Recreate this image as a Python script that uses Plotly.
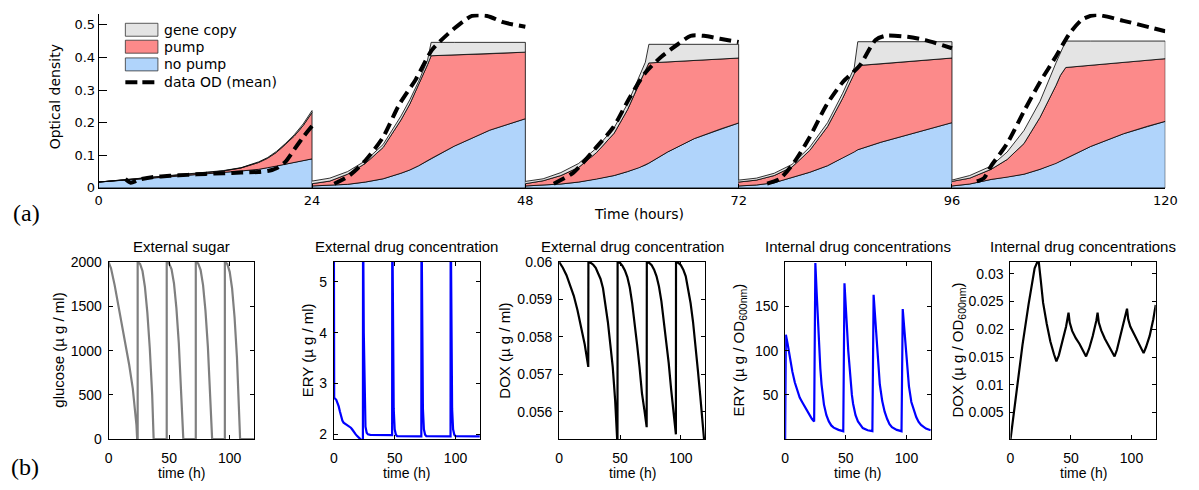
import plotly.graph_objects as go

W, H = 1199, 490
def px(x): return x / W
def py(y): return 1 - y / H

# ---------------- (a) top panel data: stacked optical density (cumulative tops) ----------------
seg_t = [
    [0, 2, 4, 6, 8, 10, 12, 14, 16, 18, 19, 20, 21, 22, 23, 24],
    [24, 26, 28, 30, 32, 34, 35, 36, 37, 37.4, 40, 44, 48],
    [48, 50, 52, 54, 56, 58, 59.5, 60.8, 61.5, 61.9, 64, 67, 70, 72],
    [72, 74, 76, 78, 80, 82, 83.7, 85, 85.4, 88, 90, 93, 96],
    [96, 98, 100.4, 102.2, 104.1, 105.9, 107.7, 108.2, 108.8, 111.6, 115.3, 118, 120],
]
no_pump_top = [
    [0.018, 0.022, 0.026, 0.030, 0.034, 0.038, 0.042, 0.047, 0.052, 0.057, 0.062, 0.067, 0.072, 0.078, 0.083, 0.089],
    [0.006, 0.008, 0.011, 0.018, 0.028, 0.045, 0.055, 0.068, 0.083, 0.090, 0.128, 0.177, 0.212],
    [0.006, 0.008, 0.012, 0.018, 0.027, 0.038, 0.050, 0.062, 0.070, 0.076, 0.110, 0.151, 0.181, 0.199],
    [0.006, 0.009, 0.016, 0.031, 0.048, 0.068, 0.092, 0.110, 0.117, 0.140, 0.155, 0.178, 0.200],
    [0.006, 0.012, 0.026, 0.033, 0.042, 0.057, 0.075, 0.082, 0.090, 0.127, 0.166, 0.189, 0.204],
]
pump_top = [
    [0.018, 0.023, 0.027, 0.032, 0.037, 0.042, 0.046, 0.052, 0.061, 0.078, 0.091, 0.109, 0.133, 0.159, 0.191, 0.231],
    [0.013, 0.021, 0.042, 0.075, 0.124, 0.208, 0.257, 0.315, 0.378, 0.405, 0.407, 0.411, 0.416],
    [0.013, 0.022, 0.038, 0.063, 0.108, 0.168, 0.240, 0.320, 0.360, 0.383, 0.386, 0.390, 0.395, 0.398],
    [0.018, 0.024, 0.038, 0.064, 0.115, 0.188, 0.275, 0.350, 0.375, 0.380, 0.385, 0.391, 0.398],
    [0.020, 0.030, 0.057, 0.087, 0.136, 0.216, 0.314, 0.345, 0.369, 0.376, 0.385, 0.391, 0.396],
]
gene_copy_top = [
    [0.018, 0.023, 0.027, 0.032, 0.037, 0.042, 0.047, 0.053, 0.062, 0.080, 0.093, 0.112, 0.136, 0.163, 0.196, 0.237],
    [0.021, 0.030, 0.050, 0.083, 0.133, 0.220, 0.270, 0.327, 0.392, 0.446, 0.446, 0.446, 0.446],
    [0.020, 0.028, 0.047, 0.075, 0.122, 0.185, 0.258, 0.340, 0.385, 0.440, 0.440, 0.440, 0.440, 0.440],
    [0.024, 0.030, 0.045, 0.072, 0.125, 0.200, 0.290, 0.368, 0.448, 0.448, 0.448, 0.448, 0.448],
    [0.024, 0.038, 0.067, 0.110, 0.176, 0.265, 0.383, 0.413, 0.450, 0.450, 0.450, 0.450, 0.450],
]
od_t = [
    [3, 3.6, 4.5, 6, 8, 10, 12, 14, 16, 18, 19, 19.5, 20, 21, 22, 23, 24],
    [26.5, 28.2, 30.1, 32, 33.8, 35.7, 37.5, 39.3, 41, 42, 43.7, 45.6, 48],
    [51.2, 53.4, 56, 57.9, 59.7, 61.5, 63.3, 65.2, 66.6, 68.1, 69.9, 72],
    [75.2, 76.6, 78.2, 80, 81.9, 83.7, 85.6, 87.4, 88.5, 91, 93, 96],
    [98.8, 99.6, 100.4, 102.2, 104.1, 105.9, 107.7, 109.2, 110.7, 112.2, 115.3, 120],
]
od_mean = [
    [0.027, 0.016, 0.025, 0.033, 0.037, 0.040, 0.043, 0.045, 0.047, 0.049, 0.052, 0.055, 0.060, 0.080, 0.118, 0.156, 0.190],
    [0.013, 0.038, 0.087, 0.156, 0.255, 0.334, 0.423, 0.472, 0.510, 0.527, 0.527, 0.507, 0.494],
    [0.013, 0.047, 0.125, 0.186, 0.275, 0.353, 0.402, 0.441, 0.466, 0.466, 0.457, 0.447],
    [0.013, 0.027, 0.077, 0.156, 0.255, 0.324, 0.374, 0.453, 0.466, 0.463, 0.453, 0.428],
    [0.020, 0.030, 0.067, 0.136, 0.235, 0.324, 0.403, 0.472, 0.517, 0.530, 0.512, 0.480],
]
top_xticks = [0, 24, 48, 72, 96, 120]
top_yticks = [0, 0.1, 0.2, 0.3, 0.4, 0.5]

# ---------------- (b) bottom panels data ----------------
sugar_t = [0, 2, 5, 8, 11, 14, 17, 20, 22, 23, 23.6, 24,
           24, 26, 28, 30, 32, 34, 36, 37.2, 48,
           48, 50, 52, 54, 56, 58, 60, 61.7, 72,
           72, 74, 76, 78, 80, 82, 84, 85.5, 96,
           96, 98, 100, 102, 104, 106, 108, 108.6, 120]
sugar = [2000, 1930, 1740, 1520, 1300, 1070, 840, 570, 330, 160, 0, 0,
         2000, 1980, 1900, 1720, 1430, 1030, 500, 0, 0,
         2000, 1985, 1920, 1760, 1480, 1080, 560, 0, 0,
         2000, 1985, 1910, 1740, 1450, 1040, 480, 0, 0,
         2000, 1980, 1890, 1700, 1380, 920, 240, 0, 0]

ery_ext_t = [0, 0.3, 2, 3, 4, 5, 6, 7, 8, 10, 12, 14, 15, 16, 18, 19, 20, 21, 22, 23.9,
             24, 24.6, 25.2, 26, 27, 28, 30, 47.9,
             48, 48.6, 49.2, 50, 51, 52, 71.9,
             72, 72.6, 73.2, 74, 75, 76, 95.9,
             96, 96.6, 97.2, 98, 99, 100, 120]
ery_ext = [6.5, 2.72, 2.68, 2.62, 2.55, 2.45, 2.35, 2.27, 2.23, 2.20, 2.17, 2.13, 2.10, 2.06, 2.00, 1.97, 1.94, 1.92, 1.90, 1.88,
           6.5, 4.0, 2.6, 2.15, 2.03, 2.0, 1.99, 1.985,
           6.5, 3.8, 2.5, 2.1, 1.99, 1.965, 1.96,
           6.5, 3.8, 2.5, 2.1, 1.99, 1.965, 1.96,
           6.5, 3.8, 2.5, 2.1, 1.99, 1.965, 1.96]

dox_ext_t = [0, 3, 6, 9, 12, 15, 18, 21, 23.9,
             24, 26, 28, 30, 32, 34, 36, 38, 40, 42, 44, 46, 47.9,
             48, 50, 52, 54, 56, 58, 60, 62, 64, 66, 68, 70, 71.9,
             72, 74, 76, 78, 80, 82, 84, 86, 88, 90, 92, 94, 95.9,
             96, 98, 100, 102, 104, 106, 108, 110, 112, 114, 116, 118, 120]
dox_ext = [0.06, 0.05985, 0.05965, 0.0594, 0.0591, 0.05872, 0.0583, 0.0578, 0.0572,
           0.06, 0.05998, 0.05993, 0.05985, 0.05972, 0.05955, 0.0593, 0.0589, 0.0584, 0.0578, 0.0572, 0.0563, 0.0551,
           0.06, 0.05998, 0.0599, 0.05978, 0.0596, 0.05932, 0.0589, 0.0584, 0.0578, 0.0572, 0.0565, 0.05605, 0.05559,
           0.06, 0.05998, 0.05992, 0.0598, 0.05962, 0.05935, 0.05895, 0.05845, 0.0579, 0.0573, 0.0566, 0.0560, 0.0554,
           0.06, 0.05998, 0.05992, 0.0598, 0.05962, 0.0593, 0.0589, 0.0584, 0.0578, 0.0571, 0.0564, 0.0557, 0.0549]

ery_int_t = [0, 0.6, 2, 4, 6, 8, 10, 12, 14, 16, 18, 20, 22, 23.9,
             24.9, 26, 27, 28, 29, 30, 31, 32, 34, 36, 38, 40, 44, 47.9,
             48.9, 50, 51, 52, 53, 54, 55, 56, 58, 60, 62, 64, 68, 71.9,
             72.9, 74, 75, 76, 77, 78, 80, 82, 84, 86, 88, 92, 95.9,
             96.9, 98, 99, 100, 101, 102, 104, 106, 108, 110, 112, 116, 120]
ery_int = [0, 118, 108, 90, 76, 64, 55, 47, 42, 37, 32, 27, 23, 20,
           199, 165, 130, 103, 80, 62, 48, 39, 27, 20, 15.5, 13, 10.5, 9,
           176, 155, 125, 100, 80, 64, 50, 40, 27, 20, 15.5, 12.5, 10, 9,
           163, 140, 115, 93, 76, 62, 43, 31, 23, 17, 13.5, 10.5, 9,
           147, 128, 108, 90, 73, 60, 42, 32, 25, 19.5, 16, 12, 10]

dox_int_t = [0, 5, 10, 15, 20, 22, 23.5, 25, 27, 30, 33, 36, 38, 40, 43, 46, 48,
             49, 51, 54, 57, 60, 62.5, 65, 68, 71, 72,
             73, 75, 78, 81, 84, 86, 88, 91, 94, 96.3,
             97.3, 99, 102, 105, 108, 110, 112, 115, 118, 120]
dox_int = [0, 0.0085, 0.0172, 0.0245, 0.031, 0.032, 0.032, 0.029, 0.0248, 0.0210, 0.0178, 0.0155, 0.0142, 0.0153, 0.0177, 0.0205, 0.0230,
           0.0212, 0.0197, 0.0184, 0.0174, 0.0162, 0.0151, 0.0165, 0.0188, 0.0216, 0.0230,
           0.0212, 0.0198, 0.0183, 0.0172, 0.0160, 0.0151, 0.0163, 0.0190, 0.0218, 0.0237,
           0.0218, 0.0205, 0.0192, 0.0179, 0.0166, 0.0157, 0.0168, 0.0188, 0.0218, 0.0244]

# ---------------- styling ----------------
BLUE = "#b0d4fb"
RED = "#fc8a8a"
GRAY = "#e4e4e4"
TOPFONT = "DejaVu Sans"
BOTFONT = "Liberation Sans"

fig = go.Figure()

# stacked areas, segment by segment (closed polygons so the vertical edges are outlined)
for t, b, r, g in zip(seg_t, no_pump_top, pump_top, gene_copy_top):
    xs = t + t[::-1]
    for top, bot, col in ((b, [0] * len(t), BLUE), (r, b[::-1], RED), (g, r[::-1], GRAY)):
        fig.add_trace(go.Scatter(
            x=xs, y=top + bot, mode="lines", fill="toself",
            fillcolor=col, line=dict(color="black", width=0.8),
            showlegend=False, hoverinfo="skip", xaxis="x", yaxis="y"))

# dashed data OD
dx, dy = [], []
for t, v in zip(od_t, od_mean):
    dx += t + [None]
    dy += v + [None]
fig.add_trace(go.Scatter(x=dx, y=dy, mode="lines", connectgaps=False,
                         line=dict(color="black", width=4, dash="12px,6px", shape="spline", smoothing=0.7),
                         showlegend=False, hoverinfo="skip", xaxis="x", yaxis="y"))

# bottom panels
fig.add_trace(go.Scatter(x=sugar_t, y=sugar, mode="lines", line=dict(color="#7f7f7f", width=2.2),
                         showlegend=False, xaxis="x2", yaxis="y2"))
fig.add_trace(go.Scatter(x=ery_ext_t, y=ery_ext, mode="lines", line=dict(color="#0000ff", width=2.2),
                         showlegend=False, xaxis="x3", yaxis="y3"))
fig.add_trace(go.Scatter(x=dox_ext_t, y=dox_ext, mode="lines", line=dict(color="black", width=2.2),
                         showlegend=False, xaxis="x4", yaxis="y4"))
fig.add_trace(go.Scatter(x=ery_int_t, y=ery_int, mode="lines", line=dict(color="#0000ff", width=2.2),
                         showlegend=False, xaxis="x5", yaxis="y5"))
fig.add_trace(go.Scatter(x=dox_int_t, y=dox_int, mode="lines", line=dict(color="black", width=2.2),
                         showlegend=False, xaxis="x6", yaxis="y6"))

layout = dict(
    width=W, height=H, margin=dict(l=0, r=0, t=0, b=0),
    paper_bgcolor="white", plot_bgcolor="white", showlegend=False,
)

# top axes
layout["xaxis"] = dict(domain=[px(96), px(1177)], range=[0, 120], tickvals=top_xticks,
                       showline=True, linecolor="black", linewidth=1, ticks="inside", ticklen=4,
                       tickcolor="black", showgrid=False, zeroline=False, anchor="y",
                       tickfont=dict(family=TOPFONT, size=13, color="black"))
layout["yaxis"] = dict(domain=[py(186), py(6)], range=[0, 0.5335], tickvals=top_yticks,
                       ticktext=["0", "0.1", "0.2", "0.3", "0.4", "0.5"],
                       showline=True, linecolor="black", linewidth=1, ticks="inside", ticklen=8,
                       tickcolor="black", showgrid=False, zeroline=False, anchor="x",
                       tickfont=dict(family=TOPFONT, size=13, color="black"))

panels = [
    (106, 253.3, [0, 2000], [0, 500, 1000, 1500, 2000], ["0", "500", "1000", "1500", "2000"]),
    (334.3, 482.3, [1.905, 5.39], [2, 3, 4, 5], ["2", "3", "4", "5"]),
    (562.7, 710.7, [0.05527, 0.06], [0.056, 0.057, 0.058, 0.059, 0.06], ["0.056", "0.057", "0.058", "0.059", "0.06"]),
    (791.7, 939.3, [0, 200], [50, 100, 150], ["50", "100", "150"]),
    (1020, 1167.3, [0.0002, 0.0321], [0.005, 0.01, 0.015, 0.02, 0.025, 0.03],
     ["0.005", "0.01", "0.015", "0.02", "0.025", "0.03"]),
]
titles = ["External sugar", "External drug concentration", "External drug concentration",
          "Internal drug concentrations", "Internal drug concentrations"]
ylabels = ["glucose (µ g / ml)", "ERY (µ g / ml)", "DOX (µ g / ml)",
           "ERY (µ g / OD<sub>600nm</sub>)", "DOX (µ g / OD<sub>600nm</sub>)"]
ylabel_x = [55, 308, 507, 745, 967]

annotations = []
for i, (x0, x1, yr, tv, tt) in enumerate(panels):
    n = i + 2
    layout[f"xaxis{n}"] = dict(domain=[px(x0), px(x1)], range=[0, 120], tickvals=[0, 50, 100],
                               showline=True, mirror="allticks", linecolor="black", linewidth=1,
                               ticks="inside", ticklen=4, tickcolor="black", showgrid=False,
                               zeroline=False, anchor=f"y{n}", ticklabelstandoff=6,
                               tickfont=dict(family=BOTFONT, size=14, color="black"))
    layout[f"yaxis{n}"] = dict(domain=[py(445.7), py(262.7)], range=yr, tickvals=tv, ticktext=tt,
                               showline=True, mirror="allticks", linecolor="black", linewidth=1,
                               ticks="inside", ticklen=4, tickcolor="black", showgrid=False,
                               zeroline=False, anchor=f"x{n}", ticklabelstandoff=3,
                               tickfont=dict(family=BOTFONT, size=14, color="black"))
    xc = (x0 + x1) / 2
    annotations.append(dict(x=px(xc), y=py(246.7), xref="paper", yref="paper", text=titles[i],
                            showarrow=False, font=dict(family=BOTFONT, size=15, color="black"),
                            xanchor="center", yanchor="middle"))
    annotations.append(dict(x=px(xc), y=py(481), xref="paper", yref="paper", text="time (h)",
                            showarrow=False, font=dict(family=BOTFONT, size=14, color="black"),
                            xanchor="center", yanchor="middle"))
    annotations.append(dict(x=px(ylabel_x[i]), y=py(354), xref="paper", yref="paper", text=ylabels[i],
                            showarrow=False, textangle=-90, font=dict(family=BOTFONT, size=15, color="black"),
                            xanchor="center", yanchor="middle"))

# top titles and panel letters
annotations.append(dict(x=px(644), y=py(213), xref="paper", yref="paper", text="Time (hours)",
                        showarrow=False, xanchor="center", yanchor="middle",
                        font=dict(family=TOPFONT, size=14, color="black")))
annotations.append(dict(x=px(52), y=py(92), xref="paper", yref="paper", text="Optical density",
                        showarrow=False, textangle=-90, xanchor="center", yanchor="middle",
                        font=dict(family=TOPFONT, size=14, color="black")))
annotations.append(dict(x=px(23), y=py(212), xref="paper", yref="paper", text="(a)",
                        showarrow=False, xanchor="center", yanchor="middle",
                        font=dict(family="Liberation Serif", size=24, color="black")))
annotations.append(dict(x=px(21), y=py(475), xref="paper", yref="paper", text="(b)",
                        showarrow=False, xanchor="center", yanchor="middle",
                        font=dict(family="Liberation Serif", size=24, color="black")))

# manual legend
legend_items = [("gene copy", GRAY, 22.5), ("pump", RED, 40), ("no pump", BLUE, 58.3)]
shapes = []
for name, col, yc in legend_items:
    shapes.append(dict(type="rect", xref="paper", yref="paper", x0=px(123), x1=px(156),
                       y0=py(yc + 6.7), y1=py(yc - 6.7), fillcolor=col, line=dict(color="#333333", width=0.8)))
    annotations.append(dict(x=px(160), y=py(yc), xref="paper", yref="paper", text=name, showarrow=False,
                            xanchor="left", yanchor="middle", font=dict(family=TOPFONT, size=14, color="black")))
shapes.append(dict(type="line", xref="paper", yref="paper", x0=px(123), x1=px(156), y0=py(76.7), y1=py(76.7),
                   line=dict(color="black", width=4, dash="12px,5px")))
annotations.append(dict(x=px(160), y=py(76.7), xref="paper", yref="paper", text="data OD (mean)", showarrow=False,
                        xanchor="left", yanchor="middle", font=dict(family=TOPFONT, size=14, color="black")))

layout["annotations"] = annotations
layout["shapes"] = shapes
fig.update_layout(**layout)
fig.write_html("out.html")
